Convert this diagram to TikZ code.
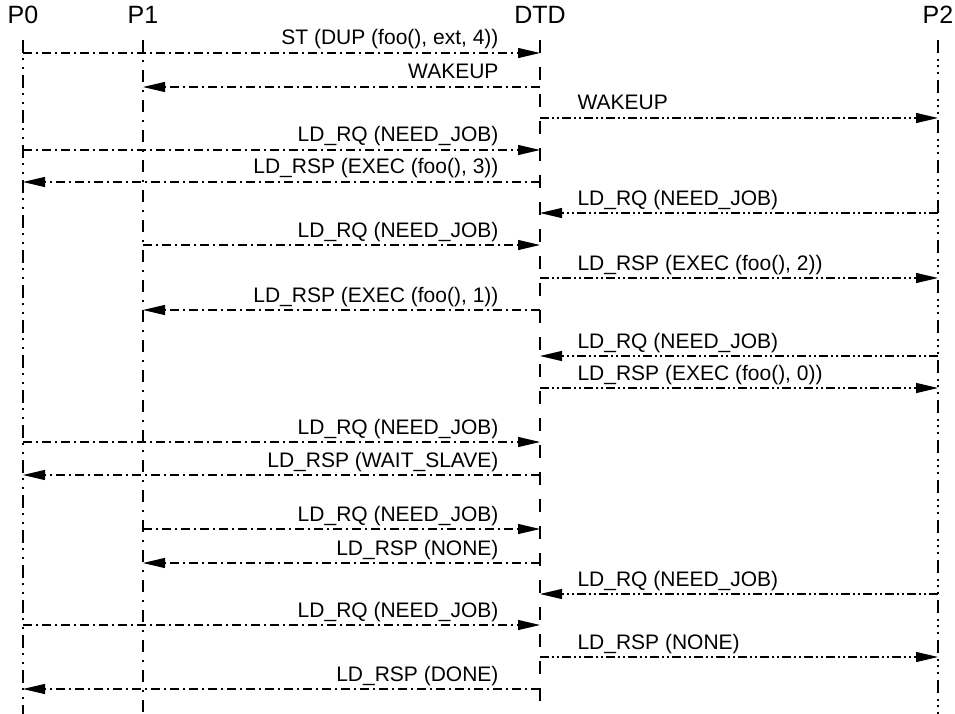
\documentclass[tikz,border=0pt]{standalone}
\usepackage{fontspec}
\setmainfont{Liberation Sans}
\usetikzlibrary{arrows.meta}
\tikzset{
  head/.style={font=\fontsize{25}{28}\selectfont, anchor=base, inner sep=0pt},
  lifeA/.style={line width=2.5pt, dash pattern=on 13pt off 5pt on 2pt off 7pt on 2pt off 6pt},
  lifeB/.style={line width=2.5pt, dash pattern=on 12pt off 8pt on 2pt off 8pt},
  lifeC/.style={line width=2.5pt, dash pattern=on 13pt off 14pt},
  lifeD/.style={line width=2.5pt, dash pattern=on 13pt off 6pt on 2pt off 4pt on 2pt off 5pt on 2pt off 6pt},
  msg/.style={line width=1.1pt, -{Triangle[length=22pt,width=10pt]}},
  mA/.style={msg, dash pattern=on 9pt off 4pt on 2pt off 4pt},
  mB/.style={msg, dash pattern=on 9pt off 4pt on 2pt off 4pt},
  mC/.style={msg, dash pattern=on 9pt off 3pt on 2pt off 3pt on 2pt off 3pt},
  lblL/.style={font=\fontsize{21}{24}\selectfont, anchor=base east, inner sep=0pt, xshift=-41pt, yshift=8pt},
  lblR/.style={font=\fontsize{21}{24}\selectfont, anchor=base west, inner sep=0pt, xshift=37pt, yshift=8pt},
}
\begin{document}
\begin{tikzpicture}[x=1pt,y=-1pt]
\useasboundingbox (0,0) rectangle (955,714);
% headers
\node[head] (hP0) at (23,24) {P0};
\node[head] (hP1) at (143,24) {P1};
\node[head] (hDTD) at (540,24) {DTD};
\node[head] (hP2) at (938,24) {P2};
% lifelines
\coordinate (P0) at (23,40);
\coordinate (P1) at (143,40);
\coordinate (D) at (540,40);
\coordinate (P2) at (938,40);
\coordinate (P0e) at (23,714);
\coordinate (P1e) at (143,714);
\coordinate (De) at (540,714);
\coordinate (P2e) at (938,714);
\draw[lifeA] (P0) -- (P0e);
\draw[lifeB] (P1) -- (P1e);
\draw[lifeC] (D) -- (De);
\draw[lifeD] (P2) -- (P2e);
% messages
\draw[mA] (P0 |- 0,53) -- (D |- 0,53) node[lblL] {ST (DUP (foo(), ext, 4))};
\draw[mB] (D |- 0,87) node[lblL] {WAKEUP} -- (P1 |- 0,87);
\draw[mC] (D |- 0,118) node[lblR] {WAKEUP} -- (P2 |- 0,118);
\draw[mA] (P0 |- 0,150) -- (D |- 0,150) node[lblL] {LD\_RQ (NEED\_JOB)};
\draw[mA] (D |- 0,182) node[lblL] {LD\_RSP (EXEC (foo(), 3))} -- (P0 |- 0,182);
\draw[mC] (P2 |- 0,213) -- (D |- 0,213) node[lblR] {LD\_RQ (NEED\_JOB)};
\draw[mB] (P1 |- 0,245) -- (D |- 0,245) node[lblL] {LD\_RQ (NEED\_JOB)};
\draw[mC] (D |- 0,278) node[lblR] {LD\_RSP (EXEC (foo(), 2))} -- (P2 |- 0,278);
\draw[mB] (D |- 0,310) node[lblL] {LD\_RSP (EXEC (foo(), 1))} -- (P1 |- 0,310);
\draw[mC] (P2 |- 0,356) -- (D |- 0,356) node[lblR] {LD\_RQ (NEED\_JOB)};
\draw[mC] (D |- 0,388) node[lblR] {LD\_RSP (EXEC (foo(), 0))} -- (P2 |- 0,388);
\draw[mA] (P0 |- 0,442) -- (D |- 0,442) node[lblL] {LD\_RQ (NEED\_JOB)};
\draw[mA] (D |- 0,475) node[lblL] {LD\_RSP (WAIT\_SLAVE)} -- (P0 |- 0,475);
\draw[mB] (P1 |- 0,529) -- (D |- 0,529) node[lblL] {LD\_RQ (NEED\_JOB)};
\draw[mB] (D |- 0,563) node[lblL] {LD\_RSP (NONE)} -- (P1 |- 0,563);
\draw[mC] (P2 |- 0,594) -- (D |- 0,594) node[lblR] {LD\_RQ (NEED\_JOB)};
\draw[mA] (P0 |- 0,625) -- (D |- 0,625) node[lblL] {LD\_RQ (NEED\_JOB)};
\draw[mC] (D |- 0,657) node[lblR] {LD\_RSP (NONE)} -- (P2 |- 0,657);
\draw[mA] (D |- 0,689) node[lblL] {LD\_RSP (DONE)} -- (P0 |- 0,689);
\end{tikzpicture}
\end{document}
